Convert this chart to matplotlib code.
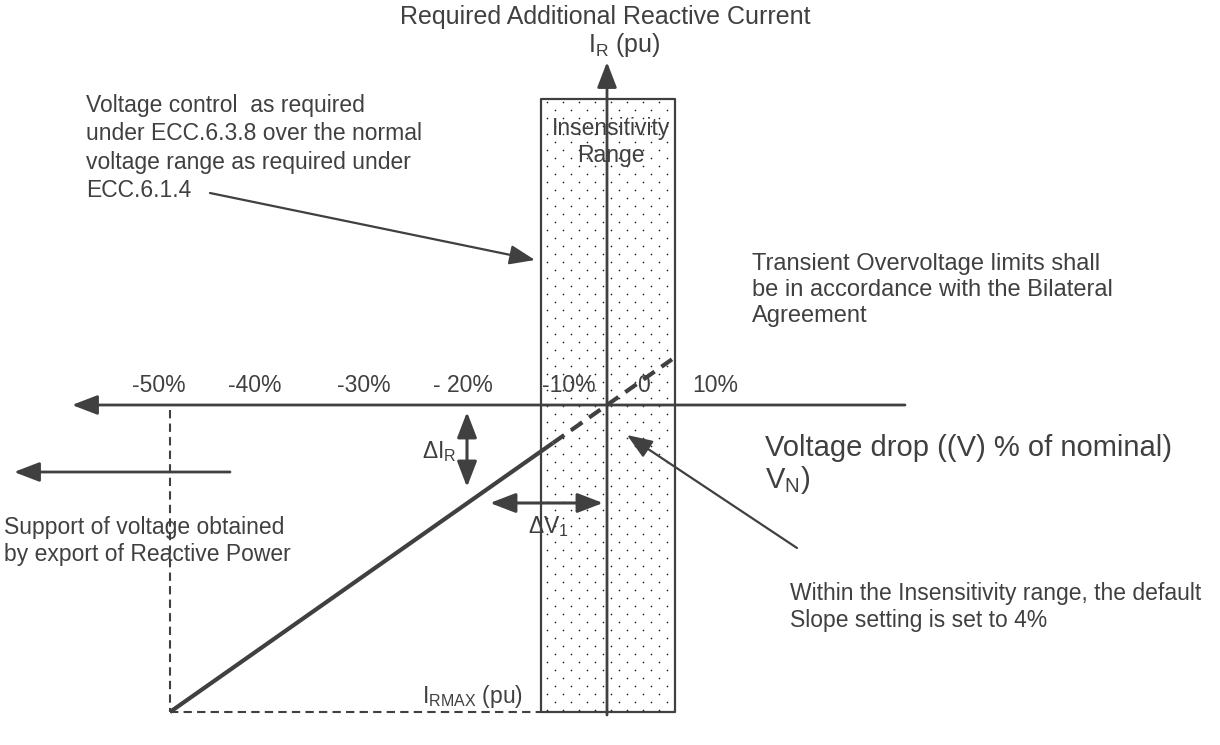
import numpy as np
import matplotlib
matplotlib.use("Agg")
import matplotlib.pyplot as plt

plt.rcParams['font.family'] = ['Liberation Sans', 'DejaVu Sans']
plt.rcParams['mathtext.fontset'] = 'custom'
plt.rcParams['mathtext.rm'] = 'Liberation Sans'
plt.rcParams['mathtext.it'] = 'Liberation Sans'

# ---------------- diagram data (pixel coordinates of the schematic) ----------------
tick_labels = ['-50%', '-40%', '-30%', '- 20%', '-10%', '0', '10%']
tick_x = [159, 255, 364, 463, 569, 643, 715]
tick_y = 385

origin = (607, 405)                 # crossing of the two axes
h_axis_x = [905, 72]                # voltage axis (arrow to the left)
v_axis_y = [715, 62]                # current axis (arrow up)
box_x = [541, 675]                  # insensitivity range
box_y = [99, 712]

# characteristic: knee at -50% / IRMAX, through origin
char_x = [170, 553]
char_dash_x = [553, 672]
irmax_y = 712

col = '#404040'
fs = 16.5

fig = plt.figure(figsize=(12.2, 7.45), dpi=100)
ax = fig.add_axes([0, 0, 1, 1])
ax.set_xlim(0, 1220)
ax.set_ylim(745, 0)
ax.axis('off')

# insensitivity box with dotted fill
ax.fill_between(box_x, box_y[0], box_y[1], facecolor='white', edgecolor=col, lw=1.6, zorder=1)
dots = []
for i, yy in enumerate(np.arange(box_y[0] + 3, box_y[1], 8)):
    xs = np.arange(box_x[0] + 6 + (i % 2) * 8, box_x[1] - 2, 16)
    dots += [(xx, yy) for xx in xs]
dots = np.array(dots)
ax.scatter(dots[:, 0], dots[:, 1], s=1.4, c='#202020', lw=0, zorder=2)

arrow = dict(arrowstyle='-|>,head_length=0.65,head_width=0.25', color=col, lw=2,
             mutation_scale=24, shrinkA=0, shrinkB=0)
darrow = dict(arrowstyle='<|-|>,head_length=0.65,head_width=0.25', color=col, lw=2.2,
              mutation_scale=24, shrinkA=0, shrinkB=0)
thin = dict(arrowstyle='-|>,head_length=0.65,head_width=0.25', color=col, lw=1.6,
            mutation_scale=24, shrinkA=0, shrinkB=0)

# axes
ax.annotate('', xy=(h_axis_x[1], origin[1]), xytext=(h_axis_x[0], origin[1]), arrowprops=arrow, zorder=3)
ax.annotate('', xy=(origin[0], v_axis_y[1]), xytext=(origin[0], v_axis_y[0]), arrowprops=arrow, zorder=3)

# characteristic line
slope = (irmax_y - origin[1]) / (origin[0] - char_x[0])
ax.plot(char_x, [origin[1] + slope * (origin[0] - x) for x in char_x], color=col, lw=3, solid_capstyle='butt', zorder=4)
ax.plot(char_dash_x, [origin[1] + slope * (origin[0] - x) for x in char_dash_x], color=col, lw=3,
        dashes=(3.3, 2), zorder=4)

# dashed guides to IRMAX
ax.plot([char_x[0], char_x[0]], [origin[1] + 5, irmax_y], color=col, lw=1.5, dashes=(4, 2.5), zorder=3)
ax.plot([char_x[0], box_x[0]], [irmax_y, irmax_y], color=col, lw=1.5, dashes=(4, 2.5), zorder=3)

# delta arrows
ax.annotate('', xy=(467, 412), xytext=(467, 487), arrowprops=darrow, zorder=3)
ax.annotate('', xy=(490, 503), xytext=(603, 503), arrowprops=darrow, zorder=3)

# pointer arrows
ax.annotate('', xy=(535, 260), xytext=(210, 193), arrowprops=thin, zorder=3)
ax.annotate('', xy=(627, 435), xytext=(797, 548), arrowprops=thin, zorder=3)
ax.annotate('', xy=(14, 472), xytext=(230, 472), arrowprops=arrow, zorder=3)

# tick labels
for lab, x in zip(tick_labels, tick_x):
    ax.text(x, tick_y, lab, ha='center', va='center', fontsize=fs, color=col, zorder=5)

# texts
ax.text(605, 17, 'Required Additional Reactive Current', ha='center', va='center', fontsize=18, color=col)
ax.text(588, 45, r'$\mathregular{I_R}$ (pu)', ha='left', va='center', fontsize=18, color=col)
ax.text(611, 142, 'Insensitivity\nRange', ha='center', va='center', fontsize=fs, color=col,
        linespacing=1.25, zorder=5)
ax.text(86, 148, 'Voltage control  as required\nunder ECC.6.3.8 over the normal\n'
        'voltage range as required under\nECC.6.1.4', ha='left', va='center', fontsize=fs,
        color=col, linespacing=1.3)
ax.text(752, 290, 'Transient Overvoltage limits shall\nbe in accordance with the Bilateral\nAgreement',
        ha='left', va='center', fontsize=17, color=col, linespacing=1.22)
ax.text(765, 448, 'Voltage drop ((V) % of nominal)', ha='left', va='center', fontsize=21, color=col)
ax.text(765, 480, r'$\mathregular{V_N}$)', ha='left', va='center', fontsize=21, color=col)
ax.text(4, 541, 'Support of voltage obtained\nby export of Reactive Power', ha='left', va='center',
        fontsize=fs, color=col, linespacing=1.25)
ax.text(790, 607, 'Within the Insensitivity range, the default\nSlope setting is set to 4%', ha='left',
        va='center', fontsize=fs, color=col, linespacing=1.25)
ax.text(422, 452, r'$\mathregular{\Delta I_R}$', ha='left', va='center', fontsize=fs, color=col)
ax.text(528, 527, r'$\mathregular{\Delta V_1}$', ha='left', va='center', fontsize=fs, color=col, zorder=5)
ax.text(422, 697, r'$\mathregular{I_{RMAX}}$ (pu)', ha='left', va='center', fontsize=fs, color=col)

fig.savefig('out.png', dpi=100, facecolor='white')
